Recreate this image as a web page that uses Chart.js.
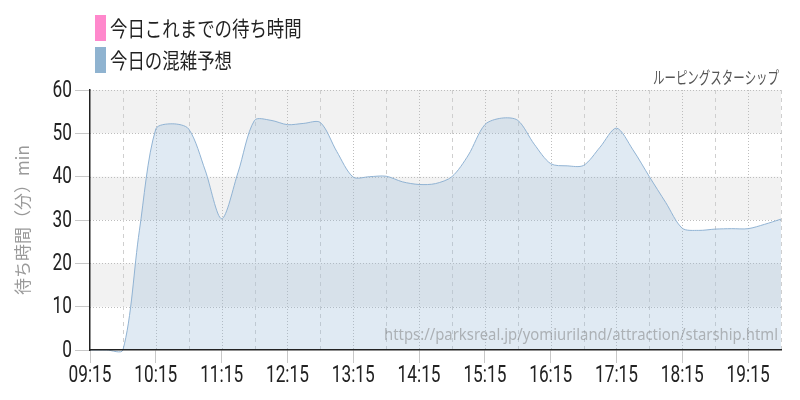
<!DOCTYPE html>
<html lang="ja">
<head>
  <meta charset="UTF-8" />
  <title>ルーピングスターシップ 待ち時間</title>
  <script src="https://cdn.jsdelivr.net/npm/chart.js"></script>
  <style>
    html, body { margin: 0; padding: 0; background: #fff; }
    #wrap { width: 800px; height: 400px; }
  </style>
</head>
<body>
  <div id="wrap"><canvas id="waitChart"></canvas></div>

  <script>
    // 15分刻みの時刻
    const times = [
      "09:15", "09:30", "09:45", "10:00", "10:15", "10:30", "10:45", "11:00",
      "11:15", "11:30", "11:45", "12:00", "12:15", "12:30", "12:45", "13:00",
      "13:15", "13:30", "13:45", "14:00", "14:15", "14:30", "14:45", "15:00",
      "15:15", "15:30", "15:45", "16:00", "16:15", "16:30", "16:45", "17:00",
      "17:15", "17:30", "17:45", "18:00", "18:15", "18:30", "18:45", "19:00",
      "19:15", "19:30", "19:45"
    ];
    // 今日これまでの待ち時間（まだデータなし）
    const todayActual = [];
    // 今日の混雑予想
    const todayForecast = [
      0, 0, 0, 27.5, 51, 52.2, 51, 41.5,
      30.3, 41, 53, 53, 52, 52.3, 52.5, 45.8,
      39.9, 40, 40.1, 38.8, 38.2, 38.4, 40, 45,
      52, 53.5, 53, 47.5, 43, 42.5, 42.6, 46.8,
      51.2, 46.2, 40, 34, 28.1, 27.6, 27.9, 28,
      28, 29, 30.2
    ];
    const yTicks = [0, 10, 20, 30, 40, 50, 60];
    const seriesLabels = ["今日これまでの待ち時間", "今日の混雑予想"];
    const chartTitle = "ルーピングスターシップ";
    const sourceUrl = "https://parksreal.jp/yomiuriland/attraction/starship.html";

    const numFont = "23px Roboto, sans-serif";
    const jp = "'Noto Sans CJK JP', 'Noto Sans', sans-serif";

    // 横方向に詰めた文字
    function squeezeText(ctx, text, x, y, font, color, align, targetW, sx) {
      ctx.save();
      ctx.font = font;
      ctx.fillStyle = color;
      ctx.textBaseline = "middle";
      const w = ctx.measureText(text).width;
      const s = targetW ? targetW / w : sx;
      ctx.translate(x, y);
      ctx.scale(s, 1);
      ctx.textAlign = align;
      ctx.fillText(text, 0, 0);
      ctx.restore();
    }

    // 背景の縞・補助線・細い目盛り文字
    const bandsPlugin = {
      id: "bands",
      beforeDatasetsDraw(chart) {
        const { ctx, chartArea: a, scales: { x, y } } = chart;
        ctx.save();
        for (let i = 0; i < yTicks.length - 1; i++) {
          if (i % 2 === 1) {
            const top = y.getPixelForValue(yTicks[i + 1]);
            const bot = y.getPixelForValue(yTicks[i]);
            ctx.fillStyle = "#f2f2f2";
            ctx.fillRect(a.left, top, a.right - a.left, bot - top);
          }
        }
        ctx.lineWidth = 1;
        ctx.strokeStyle = "#bdbdbd";
        ctx.setLineDash([1, 2]);
        yTicks.slice(1).forEach(v => {
          const py = Math.round(y.getPixelForValue(v)) + 0.5;
          ctx.beginPath(); ctx.moveTo(a.left, py); ctx.lineTo(a.right, py); ctx.stroke();
        });
        times.forEach((t, i) => {
          if (i === 0 || i % 2 !== 0) return;
          const px = Math.round(x.getPixelForValue(i)) + 0.5;
          ctx.strokeStyle = i % 4 === 0 ? "#bdbdbd" : "#cfcfcf";
          ctx.setLineDash(i % 4 === 0 ? [1, 2] : [4, 4]);
          ctx.beginPath(); ctx.moveTo(px, a.top); ctx.lineTo(px, a.bottom); ctx.stroke();
        });
        ctx.restore();
      },
      afterDatasetsDraw(chart) {
        const { ctx, chartArea: a, scales: { x, y } } = chart;
        squeezeText(ctx, sourceUrl, a.right - 3, a.bottom - 15,
          "17px 'Noto Sans', sans-serif", "rgba(120,120,120,0.5)", "right", 394);
        yTicks.forEach(v => {
          squeezeText(ctx, String(v), a.left - 18, y.getPixelForValue(v) + 1,
            numFont, "#222", "right", null, 0.75);
        });
        times.forEach((t, i) => {
          if (i % 4 !== 0) return;
          squeezeText(ctx, t, x.getPixelForValue(i), a.bottom + 26,
            numFont, "#222", "center", null, 0.75);
        });
      },
      afterDraw(chart) {
        const { ctx, chartArea: a } = chart;
        chart.data.datasets.forEach((ds, i) => {
          const cy = 28 + i * 32;
          ctx.fillStyle = ds.legendColor;
          ctx.fillRect(95, cy - 13, 11, 26);
          squeezeText(ctx, ds.label, 110, cy, "21px " + jp, "#222", "left", null, 0.83);
        });
        squeezeText(ctx, chartTitle, a.right - 2, 78, "17px " + jp, "#555", "right", 126);
      }
    };

    new Chart(document.getElementById("waitChart"), {
      type: "line",
      data: {
        labels: times,
        datasets: [
          {
            label: seriesLabels[0],
            data: todayActual,
            legendColor: "#ff88cc",
            borderColor: "#ff88cc",
            backgroundColor: "rgba(255,136,204,0.3)",
            pointRadius: 0
          },
          {
            label: seriesLabels[1],
            data: todayForecast,
            legendColor: "#8fb3d0",
            borderColor: "rgba(140,176,210,0.95)",
            backgroundColor: "rgba(155,187,216,0.31)",
            borderWidth: 1,
            fill: "origin",
            tension: 0.3,
            clip: false,
            pointRadius: 0
          }
        ]
      },
      options: {
        responsive: true,
        maintainAspectRatio: false,
        animation: false,
        layout: { padding: { top: 90, right: 19, left: 0, bottom: 0 } },
        elements: { line: { capBezierPoints: false } },
        plugins: {
          legend: { display: false },
          tooltip: { enabled: false }
        },
        scales: {
          x: {
            afterFit: s => { s.height = 50; },
            border: { display: true, color: "#222", width: 1.5, z: 1 },
            grid: {
              drawOnChartArea: false,
              tickLength: 13,
              tickColor: c => (c.index % 4 === 0 ? "#c8c8c8" : "rgba(0,0,0,0)")
            },
            ticks: {
              autoSkip: false,
              maxRotation: 0,
              color: "rgba(0,0,0,0)",
              font: { size: 12 },
              callback: (v, i) => (i % 4 === 0 ? times[i] : "")
            }
          },
          y: {
            min: 0,
            max: 60,
            afterFit: s => { s.width = 90; },
            border: { display: true, color: "#222", width: 1.5, z: 1 },
            grid: { drawOnChartArea: false, tickLength: 15, tickColor: "#c8c8c8" },
            ticks: {
              stepSize: 10,
              color: "rgba(0,0,0,0)",
              font: { size: 12 }
            },
            title: {
              display: true,
              text: "待ち時間（分）min",
              color: "#999",
              font: { family: jp, size: 17 },
              padding: { top: 12, bottom: 0 }
            }
          }
        }
      },
      plugins: [bandsPlugin]
    });
  </script>
</body>
</html>
